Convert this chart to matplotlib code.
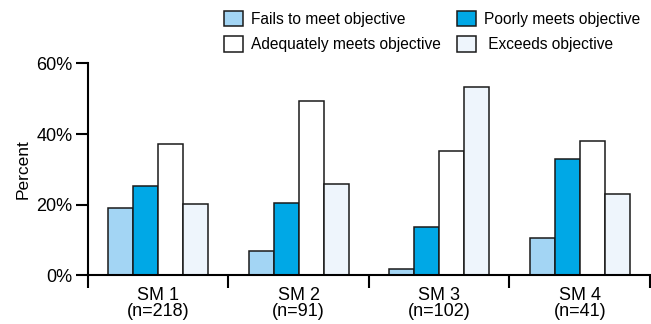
import matplotlib
matplotlib.use('Agg')
import matplotlib.pyplot as plt
import numpy as np

plt.rcParams['font.family'] = ['Liberation Sans', 'DejaVu Sans']

# Datos
grupos = ['SM 1', 'SM 2', 'SM 3', 'SM 4']
n_muestra = [218, 91, 102, 41]
series = ['Fails to meet objective', 'Poorly meets objective',
          'Adequately meets objective', 'Exceeds objective']
falla = [19.2, 6.9, 1.7, 10.7]
pobre = [25.2, 20.4, 13.8, 32.9]
adecuado = [37.2, 49.3, 35.3, 38.1]
excede = [20.2, 25.8, 53.4, 22.9]

colores = ['#A3D5F4', '#00A8E6', '#FFFFFF', '#EEF5FC']
valores = [falla, pobre, adecuado, excede]

fig = plt.figure(figsize=(6.51, 3.24), dpi=100)
ax = fig.add_axes([0.135, 0.1497, 0.8635, 0.655])

ancho = 0.178
x = np.arange(len(grupos)) + 0.5
barras = []
for j, (vals, col) in enumerate(zip(valores, colores)):
    b = ax.bar(x + (j - 1.5) * ancho, vals, width=ancho, color=col,
               edgecolor='#1a1a1a', linewidth=1.1, zorder=2)
    barras.append(b)

ax.set_xlim(0, 4)
ax.set_ylim(0, 60)
ax.set_yticks([0, 20, 40, 60])
ax.set_yticklabels(['0%', '20%', '40%', '60%'], fontsize=13)
ax.set_ylabel('Percent', fontsize=12.5, labelpad=4)

# Marcas en los límites de grupo, etiquetas en el centro
ax.set_xticks([0, 1, 2, 3, 4])
ax.set_xticklabels([])
ax.set_xticks(x, minor=True)
ax.set_xticklabels([f'{g}\n(n={n})' for g, n in zip(grupos, n_muestra)],
                   minor=True, fontsize=13, linespacing=0.92)
ax.tick_params(axis='x', which='major', length=9, width=1.5, direction='out')
ax.tick_params(axis='x', which='minor', length=0, pad=8.5)
ax.tick_params(axis='y', length=9, width=1.5, pad=2)

for s in ['top', 'right']:
    ax.spines[s].set_visible(False)
for s in ['left', 'bottom']:
    ax.spines[s].set_linewidth(1.5)

# Leyenda en dos columnas
orden = [0, 2, 1, 3]
etiquetas = [series[0], series[2], series[1], ' ' + series[3]]
fig.legend([barras[i] for i in orden], etiquetas, ncol=2, frameon=False,
           loc='upper left', bbox_to_anchor=(224 / 651, 1 - 11 / 324),
           fontsize=11.2, handlelength=1.22, handleheight=1.15,
           handletextpad=0.5, columnspacing=1.05, labelspacing=0.6,
           borderpad=0, borderaxespad=0)

fig.savefig('out.png', dpi=100)
